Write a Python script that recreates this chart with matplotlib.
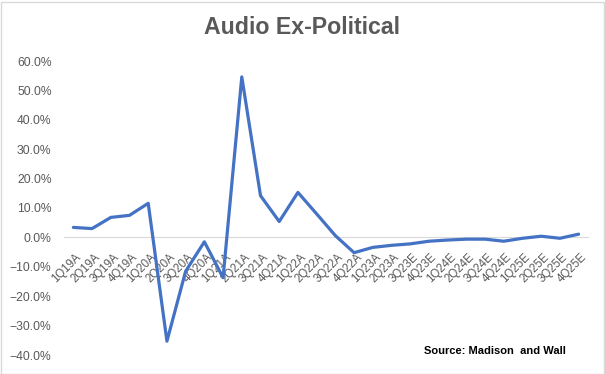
import matplotlib.pyplot as plt
from matplotlib.ticker import PercentFormatter
from matplotlib.patches import Rectangle
from matplotlib.transforms import ScaledTranslation

plt.rcParams['font.family'] = ['Liberation Sans', 'DejaVu Sans']

# Quarterly data (A = actual, E = estimate)
quarters = ['1Q19A', '2Q19A', '3Q19A', '4Q19A', '1Q20A', '2Q20A', '3Q20A', '4Q20A',
            '1Q21A', '2Q21A', '3Q21A', '4Q21A', '1Q22A', '2Q22A', '3Q22A', '4Q22A',
            '1Q23A', '2Q23A', '3Q23E', '4Q23E', '1Q24E', '2Q24E', '3Q24E', '4Q24E',
            '1Q25E', '2Q25E', '3Q25E', '4Q25E']
growth = [3.4, 3.0, 6.8, 7.5, 11.6, -35.3, -11.5, -1.5,
          -13.7, 54.6, 14.2, 5.4, 15.3, 8.0, 0.6, -5.2,
          -3.4, -2.7, -2.2, -1.3, -0.9, -0.6, -0.6, -1.3,
          -0.3, 0.4, -0.3, 1.1]
yticks = [-40, -30, -20, -10, 0, 10, 20, 30, 40, 50, 60]

fig = plt.figure(figsize=(6.05, 3.74), dpi=100)
ax = fig.add_axes([64 / 605, 19 / 374, (588 - 64) / 605, (313 - 19) / 374])

x = list(range(len(quarters)))
ax.plot(x, growth, color='#4472C4', linewidth=2.3, solid_capstyle='round',
        solid_joinstyle='round', zorder=3)

ax.set_xlim(-0.5, len(quarters) - 0.5)
ax.set_ylim(-40, 60)
ax.set_yticks(yticks)
ax.yaxis.set_major_formatter(PercentFormatter(decimals=1))

# category axis crossing at zero
ax.spines['bottom'].set_position(('data', 0))
ax.spines['bottom'].set_color('#D9D9D9')
for s in ['top', 'right', 'left']:
    ax.spines[s].set_visible(False)

ax.set_xticks(x)
ax.set_xticklabels(quarters, rotation=45, ha='right', va='top',
                   rotation_mode='anchor')
ax.tick_params(axis='x', length=0, pad=10, labelsize=8.3, labelcolor='#595959')
ax.tick_params(axis='y', length=0, pad=9, labelsize=8.7, labelcolor='#595959')
shift = ScaledTranslation(2 / 100, 0, fig.dpi_scale_trans)
for lbl in ax.get_xticklabels():
    lbl.set_transform(lbl.get_transform() + shift)

fig.text(0.499, 1 - 27 / 374, 'Audio Ex-Political', ha='center', va='center',
         fontsize=16.7, fontweight='bold', color='#595959')
fig.text(495 / 605, 1 - 351 / 374, 'Source: Madison  and Wall', ha='center',
         va='center', fontsize=8, fontweight='bold', color='black')

# outer border
fig.patches.append(Rectangle((0.5 / 605, 0.5 / 374), 603 / 605, 372 / 374,
                             transform=fig.transFigure, fill=False,
                             edgecolor='#D9D9D9', linewidth=1))

fig.savefig('out.png', dpi=100)
